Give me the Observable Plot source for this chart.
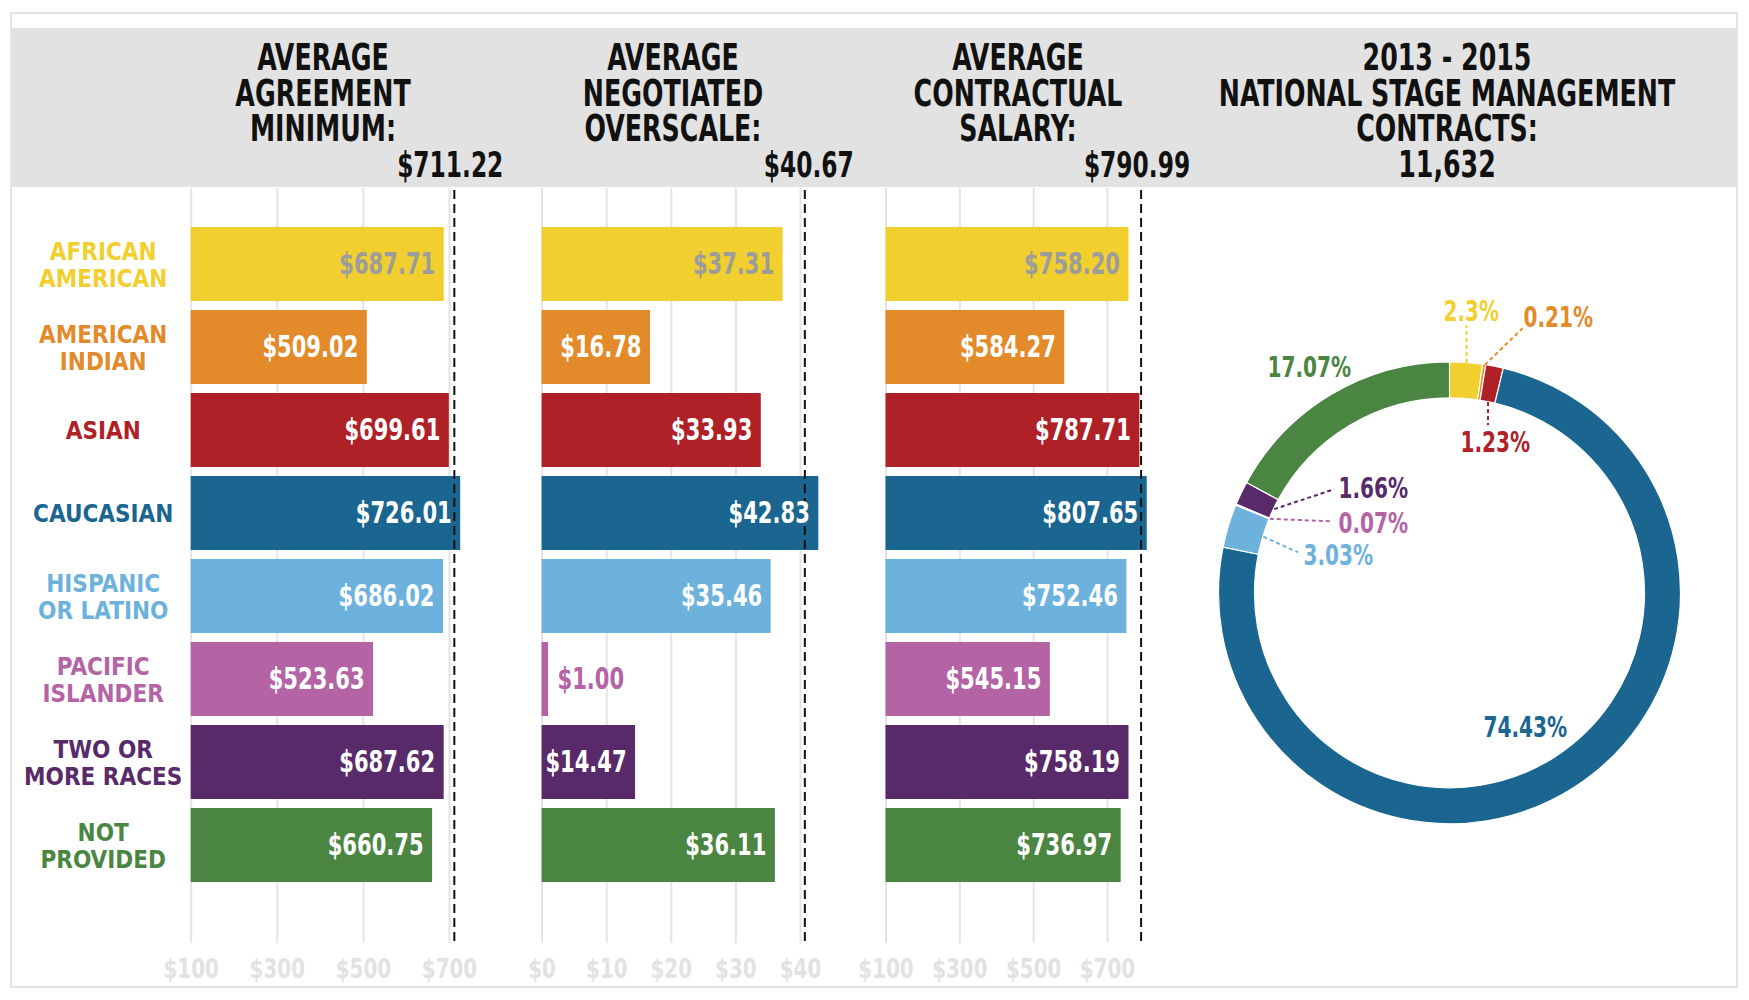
<!DOCTYPE html>
<html>
<head>
<meta charset="utf-8">
<script src="https://cdn.jsdelivr.net/npm/d3@7"></script>
<script src="https://cdn.jsdelivr.net/npm/@observablehq/plot@0.6"></script>
<style>
  html, body { margin: 0; padding: 0; background: #fff; }
  #root { position: relative; width: 1749px; height: 1000px; overflow: hidden; background: #fff; }
  #root svg { position: absolute; left: 0; top: 0; }
  .frame { position: absolute; left: 10px; top: 12px; width: 1724px; height: 972px; border: 2px solid #e3e3e3; }
  .header { position: absolute; left: 12px; top: 28px; width: 1724px; height: 159px; background: #e1e2e1; }
  .title { position: absolute; top: 40px; transform: translateX(-50%) scaleX(0.76); text-align: center; white-space: nowrap;
           font-family: 'DejaVu Sans Condensed', sans-serif;
           font-weight: 700; font-size: 37px; line-height: 35.6px; color: #111; }
</style>
</head>
<body>
<div id="root">
  <div class="frame"></div>
  <div class="header"></div>
  <div class="title" style="left:323px">AVERAGE<br>AGREEMENT<br>MINIMUM:</div>
  <div class="title" style="left:673px">AVERAGE<br>NEGOTIATED<br>OVERSCALE:</div>
  <div class="title" style="left:1018px">AVERAGE<br>CONTRACTUAL<br>SALARY:</div>
  <div class="title" style="left:1447px">2013 - 2015<br>NATIONAL STAGE MANAGEMENT<br>CONTRACTS:<br>11,632</div>
</div>
<script>
// ---------------- data ----------------
const categories = ["African American", "American Indian", "Asian", "Caucasian",
  "Hispanic or Latino", "Pacific Islander", "Two or More Races", "Not Provided"];
const categoryLabels = ["AFRICAN\nAMERICAN", "AMERICAN\nINDIAN", "ASIAN", "CAUCASIAN",
  "HISPANIC\nOR LATINO", "PACIFIC\nISLANDER", "TWO OR\nMORE RACES", "NOT\nPROVIDED"];
const categoryColors = ["#f0cf2e", "#e38a2b", "#af2127", "#1a6690", "#6db2dd", "#b463a5", "#582a69", "#4a8641"];

const agreementMinimum = [687.71, 509.02, 699.61, 726.01, 686.02, 523.63, 687.62, 660.75];
const negotiatedOverscale = [37.31, 16.78, 33.93, 42.83, 35.46, 1.00, 14.47, 36.11];
const contractualSalary = [758.20, 584.27, 787.71, 807.65, 752.46, 545.15, 758.19, 736.97];
const contractSharePct = [2.3, 0.21, 1.23, 74.43, 3.03, 0.07, 1.66, 17.07];

const averageMinimum = 711.22;
const averageOverscale = 40.67;
const averageSalary = 790.99;

const minimumTicks = [100, 300, 500, 700];
const overscaleTicks = [0, 10, 20, 30, 40];
const salaryTicks = [100, 300, 500, 700];

// ---------------- layout / style ----------------
const W = 1749, H = 1000;
const FONT = "'DejaVu Sans Condensed', sans-serif";
const colorOpts = {type: "ordinal", domain: categories, range: categoryColors};
// horizontal compression per font size (the reference face is a compressed gothic)
const squeeze = {"30px": 0.78, "36px": 0.72, "27px": 0.82, "29px": 0.77};
const root = document.getElementById("root");

function attach(svg) {
  root.appendChild(svg);
  svg.querySelectorAll("text").forEach(t => {
    if (t.querySelector("tspan")) return;
    const r = squeeze[getComputedStyle(t).fontSize];
    if (!r) return;
    const len = t.getComputedTextLength();
    t.setAttribute("textLength", (len * r).toFixed(1));
    t.setAttribute("lengthAdjust", "spacingAndGlyphs");
  });
}

function barPanel({values, avg, domain, pxLeft, pxRight, ticks, withLabels}) {
  const rows = categories.map((c, i) => ({c, v: values[i], i}));
  const base = domain[0];
  const span = domain[1] - domain[0];
  const isOutside = d => (d.v - base) / span < 0.1;
  const valueText = {x: "v", y: "c", text: d => "$" + d.v.toFixed(2), fontSize: 30, fontWeight: 700, fontFamily: FONT};
  const marks = [
    Plot.ruleX(ticks, {x: d => d, stroke: "#e4e4e4", strokeWidth: 2, insetTop: -31, insetBottom: -53}),
    Plot.barX(rows, {y: "c", x1: base, x2: "v", fill: "c"}),
    Plot.ruleX([avg], {x: d => d, stroke: "#111", strokeWidth: 2, strokeDasharray: "9,5", insetTop: -29, insetBottom: -56}),
    Plot.text(rows.filter(d => d.i === 0 && !isOutside(d)), {...valueText, textAnchor: "end", dx: -9, fill: "#9c9c9c"}),
    Plot.text(rows.filter(d => d.i !== 0 && !isOutside(d)), {...valueText, textAnchor: "end", dx: -9, fill: "#ffffff"}),
    Plot.text(rows.filter(isOutside), {...valueText, textAnchor: "start", dx: 9, fill: "c"}),
    Plot.text([avg], {x: d => d, frameAnchor: "top", lineAnchor: "middle", dy: -54, dx: 49, textAnchor: "end",
      text: d => "$" + d.toFixed(2), fill: "#111", fontSize: 36, fontWeight: 700, fontFamily: FONT}),
    Plot.axisX({ticks, tickFormat: d => "$" + d, tickSize: 0, tickPadding: 68, anchor: "bottom",
      fontSize: 27, fontWeight: 700, fill: "#e2e2e2", fontFamily: FONT, label: null})
  ];
  if (withLabels) {
    marks.push(Plot.text(rows, {y: "c", text: d => categoryLabels[d.i], frameAnchor: "left", dx: -88,
      textAnchor: "middle", fill: "c", fontSize: 24, lineHeight: 1.12, fontWeight: 700, fontFamily: FONT}));
  }
  return Plot.plot({
    width: W, height: H,
    marginLeft: pxLeft, marginRight: W - pxRight, marginTop: 219, marginBottom: 110,
    x: {domain},
    y: {domain: categories, paddingInner: 0.106, paddingOuter: 0.053, axis: null},
    color: colorOpts,
    style: {background: "transparent", overflow: "visible"},
    marks
  });
}

attach(barPanel({values: agreementMinimum, avg: averageMinimum, domain: [100, 700],
  pxLeft: 190.7, pxRight: 449, ticks: minimumTicks, withLabels: true}));
attach(barPanel({values: negotiatedOverscale, avg: averageOverscale, domain: [0, 40],
  pxLeft: 541.6, pxRight: 800, ticks: overscaleTicks, withLabels: false}));
attach(barPanel({values: contractualSalary, avg: averageSalary, domain: [100, 700],
  pxLeft: 885.5, pxRight: 1107, ticks: salaryTicks, withLabels: false}));

// ---------------- donut ----------------
const donutCenter = [1449.5, 592.8];
const donutInner = 195, donutOuter = 231;
// label anchor offsets from centre, and leader-line ends (null = no leader)
const labelOffsets = [[-6.5, -282], [73.5, -276], [10.5, -151], [33.5, 134], [-146.5, -38], [-111.5, -70], [-111.5, -105], [-182.5, -226]];
const leaderSpecs = [
  {r: donutOuter, end: [16.5, -268]},
  {r: donutOuter, end: [72.5, -265]},
  {r: donutInner, end: [38, -168]},
  null,
  {r: donutInner, end: [-152, -41]},
  {r: donutInner, end: [-118, -72]},
  {r: donutInner, end: [-116, -104]},
  null
];

const shareRows = categories.map((c, i) => ({c, v: contractSharePct[i], i}));
const pieArcs = d3.pie().sort(null).value(d => d.v)(shareRows);
const colorScale = Plot.scale({color: colorOpts});
const [cx, cy] = donutCenter;

const leaderRows = pieArcs.filter((a, i) => leaderSpecs[i]).map(a => {
  const s = leaderSpecs[a.data.i];
  const mid = (a.startAngle + a.endAngle) / 2;
  return {c: a.data.c, x1: cx + s.r * Math.sin(mid), y1: cy - s.r * Math.cos(mid), x2: cx + s.end[0], y2: cy + s.end[1]};
});

function donutRender() {
  const g = d3.create("svg:g").attr("transform", `translate(${cx},${cy})`);
  const arc = d3.arc().innerRadius(donutInner).outerRadius(donutOuter);
  g.selectAll("path").data(pieArcs).join("path")
    .attr("d", arc)
    .attr("fill", d => colorScale.apply(d.data.c))
    .attr("stroke", "#fff").attr("stroke-width", 1.2);
  return g.node();
}

attach(Plot.plot({
  width: W, height: H, margin: 0,
  x: {type: "identity"}, y: {type: "identity"},
  color: colorOpts,
  style: {background: "transparent", overflow: "visible"},
  marks: [
    donutRender,
    Plot.link(leaderRows, {x1: "x1", y1: "y1", x2: "x2", y2: "y2", stroke: "c", strokeWidth: 2, strokeDasharray: "4,3"}),
    Plot.text(shareRows, {x: d => cx + labelOffsets[d.i][0], y: d => cy + labelOffsets[d.i][1],
      text: d => d.v + "%", fill: "c", textAnchor: "start", fontSize: 29, fontWeight: 700, fontFamily: FONT})
  ]
}));
</script>
</body>
</html>
